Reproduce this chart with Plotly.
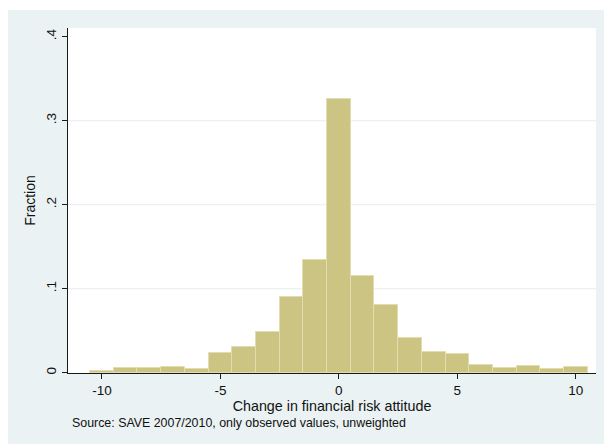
import plotly.graph_objects as go

# Histogram of the change in financial risk attitude (fraction per integer bin)
change_values = [-10, -9, -8, -7, -6, -5, -4, -3, -2, -1, 0,
                 1, 2, 3, 4, 5, 6, 7, 8, 9, 10]
fractions = [0.0024, 0.0060, 0.0060, 0.0064, 0.0042, 0.0231, 0.0310, 0.0488,
             0.0898, 0.1342, 0.3255, 0.1155, 0.0802, 0.0410, 0.0250, 0.0220,
             0.0092, 0.0056, 0.0076, 0.0044, 0.0064]

x_ticks = [-10, -5, 0, 5, 10]
x_tick_labels = ["-10", "-5", "0", "5", "10"]
y_ticks = [0, 0.1, 0.2, 0.3, 0.4]
y_tick_labels = ["0", ".1", ".2", ".3", ".4"]
grid_levels = [0.1, 0.2, 0.3]

x_title = "Change in financial risk attitude"
y_title = "Fraction"
note = "Source: SAVE 2007/2010, only observed values, unweighted"

W, H = 604, 444
L, R, T, B = 68, 8, 28, 71
PW, PH = W - L - R, H - T - B

OUTER = "#EAF2F3"
BAR = "#CBC483"
BAR_EDGE = "#E2DCB0"
AXIS = "#1a1a1a"
FONT = "Liberation Sans, Arial, sans-serif"


def px_x(px):
    return (px - L) / PW


def px_y(py):
    return (H - B - py) / PH


fig = go.Figure()
fig.add_trace(go.Bar(
    x=change_values, y=fractions, width=1,
    marker=dict(color=BAR, line=dict(color=BAR_EDGE, width=1)),
    hoverinfo="x+y",
))

shapes = [
    # graph region (tinted) and the white plot region
    dict(type="rect", xref="paper", yref="paper", layer="below",
         x0=px_x(8), x1=px_x(W), y0=px_y(H), y1=px_y(10),
         fillcolor=OUTER, line=dict(width=0)),
    dict(type="rect", xref="paper", yref="paper", layer="below",
         x0=0, x1=1, y0=0, y1=1, fillcolor="white", line=dict(width=0)),
]
for g in grid_levels:
    shapes.append(dict(type="line", xref="paper", yref="y", layer="below",
                       x0=0, x1=1, y0=g, y1=g,
                       line=dict(color=OUTER, width=1.2)))

fig.update_layout(
    width=W, height=H,
    margin=dict(l=L, r=R, t=T, b=B),
    paper_bgcolor="white", plot_bgcolor="white",
    showlegend=False, bargap=0,
    font=dict(family=FONT, size=13, color="#111"),
    shapes=shapes,
    xaxis=dict(
        range=[-11.43, 10.85], tickvals=x_ticks, ticktext=x_tick_labels,
        showgrid=False, zeroline=False,
        showline=True, linecolor=AXIS, linewidth=1,
        ticks="outside", ticklen=5, tickcolor=AXIS, tickwidth=1,
        tickfont=dict(size=13.5),
        title=dict(text=x_title, font=dict(size=14.3), standoff=1),
    ),
    yaxis=dict(
        range=[-0.0004, 0.4104], tickvals=y_ticks, ticktext=y_tick_labels,
        tickangle=-90, showgrid=False, zeroline=False,
        showline=True, linecolor=AXIS, linewidth=1,
        ticks="outside", ticklen=5, tickcolor=AXIS, tickwidth=1,
        tickfont=dict(size=13.5), ticklabelstandoff=1,
        title=dict(text=y_title, font=dict(size=14), standoff=4),
    ),
    annotations=[dict(
        text=note, xref="paper", yref="paper",
        x=px_x(70), y=px_y(423), xanchor="left", yanchor="middle",
        showarrow=False, font=dict(size=12.4, color="#111"),
    )],
)

fig.write_html("out.html")
